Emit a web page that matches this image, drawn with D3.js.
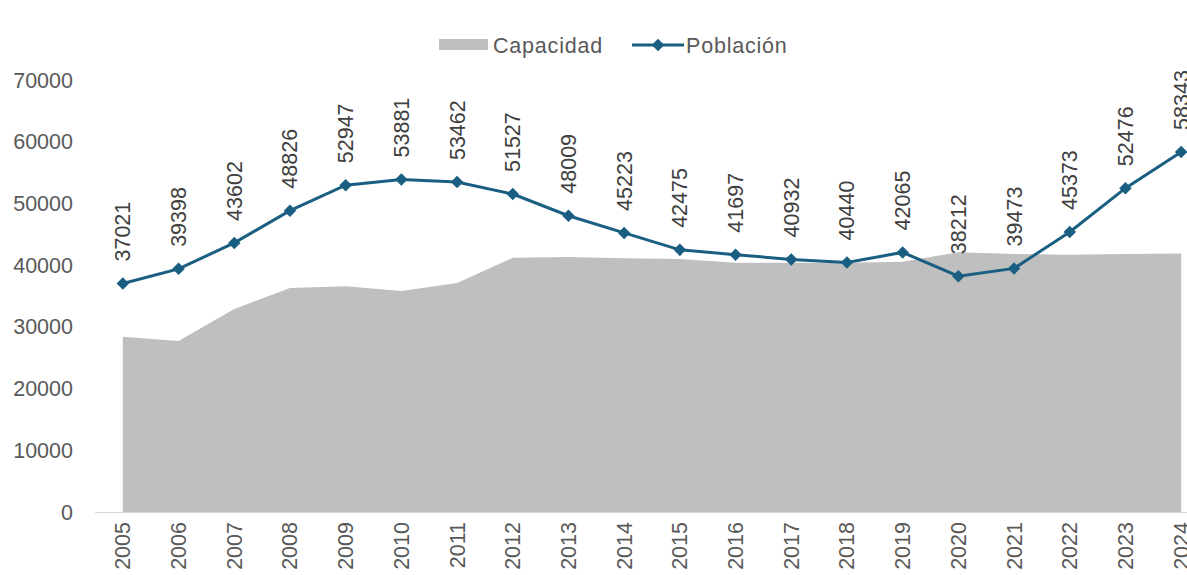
<!DOCTYPE html>
<html><head><meta charset="utf-8">
<script src="https://cdn.jsdelivr.net/npm/d3@7"></script>
<style>body{margin:0;background:#fff;}svg{display:block;font-family:"Liberation Sans",Arial,sans-serif;}</style>
</head><body><svg id="c" width="1187" height="575"></svg>
<script>
const years = ["2005","2006","2007","2008","2009","2010","2011","2012","2013","2014","2015","2016","2017","2018","2019","2020","2021","2022","2023","2024"];
const capacidad = [28400,27700,32900,36300,36600,35800,37100,41200,41300,41100,41000,40400,40400,40400,40550,42100,41800,41700,41800,41900];
const poblacion = [37021,39398,43602,48826,52947,53881,53462,51527,48009,45223,42475,41697,40932,40440,42065,38212,39473,45373,52476,58343];
const yTicks = [0,10000,20000,30000,40000,50000,60000,70000];

const svg = d3.select("#c");
const x = d3.scalePoint().domain(years).range([95, 1209]).padding(0.5);
const y = d3.scaleLinear().domain([0,70000]).range([512, 80]);
const textCol = "#595959", lineCol = "#1a5f82", areaCol = "#bfbfbf";
const fs = 21.5;

// area
svg.append("path").datum(capacidad)
  .attr("d", d3.area().x((d,i)=>x(years[i])).y0(y(0)).y1(d=>y(d)))
  .attr("fill", areaCol);

// x axis line
svg.append("line").attr("x1",95).attr("x2",1187).attr("y1",y(0)+0.5).attr("y2",y(0)+0.5)
  .attr("stroke","#d9d9d9").attr("stroke-width",1.2);

// y axis labels
svg.append("g").selectAll("text").data(yTicks).join("text")
  .attr("x",73).attr("y",d=>y(d)).attr("dy","0.35em").attr("text-anchor","end")
  .attr("font-size",fs).attr("fill",textCol).text(d=>d);

// x labels
svg.append("g").selectAll("text").data(years).join("text")
  .attr("transform",d=>`translate(${x(d)},${522}) rotate(-90)`)
  .attr("dy","0.35em").attr("text-anchor","end")
  .attr("font-size",fs).attr("fill",textCol).text(d=>d);

// line
svg.append("path").datum(poblacion)
  .attr("d", d3.line().x((d,i)=>x(years[i])).y(d=>y(d)))
  .attr("fill","none").attr("stroke",lineCol).attr("stroke-width",3);

const diamond = d3.symbol().type(d3.symbolDiamond2).size(100);
svg.append("g").selectAll("path").data(poblacion).join("path")
  .attr("transform",(d,i)=>`translate(${x(years[i])},${y(d)})`)
  .attr("d", diamond).attr("fill",lineCol);

// data labels
svg.append("g").selectAll("text").data(poblacion).join("text")
  .attr("transform",(d,i)=>`translate(${x(years[i])},${y(d)-22}) rotate(-90)`)
  .attr("dy","0.35em").attr("text-anchor","start")
  .attr("font-size",fs).attr("fill","#404040").text(d=>d);

// legend
const lg = svg.append("g");
lg.append("rect").attr("x",439).attr("y",39).attr("width",49).attr("height",11).attr("fill",areaCol);
lg.append("text").attr("x",493).attr("y",45).attr("dy","0.35em").attr("font-size",fs).attr("letter-spacing",0.8).attr("fill",textCol).text("Capacidad");
lg.append("line").attr("x1",632).attr("x2",684).attr("y1",45).attr("y2",45).attr("stroke",lineCol).attr("stroke-width",3);
lg.append("path").attr("transform","translate(658,45)").attr("d",diamond).attr("fill",lineCol);
lg.append("text").attr("x",686).attr("y",45).attr("dy","0.35em").attr("font-size",fs).attr("letter-spacing",0.8).attr("fill",textCol).text("Población");
</script></body></html>
